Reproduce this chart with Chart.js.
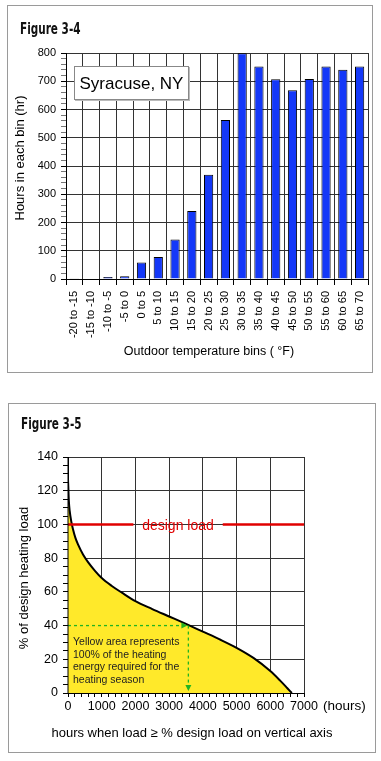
<!DOCTYPE html>
<html><head><meta charset="utf-8">
<script src="https://cdn.jsdelivr.net/npm/chart.js@4/dist/chart.umd.min.js"></script>
<style>
html,body{margin:0;padding:0;background:#fff;width:381px;height:761px;overflow:hidden;font-family:"Liberation Sans",Arial,sans-serif;color:#000;}
.panel{position:absolute;border:1.5px solid #9a9a9a;box-sizing:border-box;}
.abs{position:absolute;white-space:nowrap;line-height:1;}
.fig{font-family:"DejaVu Sans Condensed","Liberation Sans Narrow",sans-serif;font-weight:bold;font-size:12px;color:#111;transform:translate(0,-50%) scale(0.97,1.25);transform-origin:left center;}
.rot{transform:translate(-50%,-50%) rotate(-90deg);}
.ctr{transform:translate(-50%,-50%);}
.midy{transform:translate(0,-50%);}
canvas{position:absolute;left:0;}
</style></head><body>
<div class="panel" style="left:7px;top:5px;width:366px;height:368px"></div>
<div class="panel" style="left:8px;top:403px;width:368px;height:350px"></div>
<canvas id="c1" width="381" height="380" style="top:0;width:381px;height:380px"></canvas>
<canvas id="c2" width="381" height="366" style="top:395px;width:381px;height:366px"></canvas>

<div class="abs fig" style="left:20px;top:29px">Figure 3-4</div>
<div class="abs" style="left:74px;top:66px;width:115px;height:34px;box-sizing:border-box;border:1px solid #888;box-shadow:1px 1px 0 #bbb;background:#fff;font-size:17px;display:flex;align-items:center;justify-content:center;">Syracuse, NY</div>
<div class="abs rot" style="left:19px;top:158px;font-size:13px">Hours in each bin (hr)</div>
<div class="abs ctr" style="left:209px;top:351px;font-size:12.5px">Outdoor temperature bins ( °F)</div>

<div class="abs fig" style="left:21px;top:424px">Figure 3-5</div>
<div class="abs ctr" style="left:178px;top:525px;font-size:14px;color:#e00000">design load</div>
<div class="abs" style="left:73px;top:635px;font-size:10.5px;line-height:12.6px;color:#222">Yellow area represents<br>100% of the heating<br>energy required for the<br>heating season</div>
<div class="abs midy" style="left:323px;top:706px;font-size:13.5px">(hours)</div>
<div class="abs rot" style="left:23px;top:578px;font-size:13px">% of design heating load</div>
<div class="abs ctr" style="left:192px;top:732px;font-size:13px">hours when load ≥ % design load on vertical axis</div>

<script>
// ---- Figure 3-4 data ----
const binLabels = ['-20 to -15','-15 to -10','-10 to -5','-5 to 0','0 to 5','5 to 10','10 to 15','15 to 20','20 to 25','25 to 30','30 to 35','35 to 40','40 to 45','45 to 50','50 to 55','55 to 60','60 to 65','65 to 70'];
const binHours = [1, 2, 7, 10, 58, 78, 140, 241, 369, 563, 799, 752, 707, 668, 708, 752, 741, 752];
const hoursTicks = [0, 100, 200, 300, 400, 500, 600, 700, 800];

// ---- Figure 3-5 data ----
const loadHours   = [0, 25, 50, 100, 150, 220, 300, 450, 600, 800, 1000, 1300, 1600, 2000, 2500, 3000, 3500, 4000, 4500, 5000, 5500, 6000, 6300, 6500, 6640];
const loadPercent = [127, 114, 108, 101.5, 97, 92, 88, 82, 77.5, 72.5, 68.2, 63.5, 59.5, 54.5, 49.8, 45.4, 41, 36.4, 31.8, 26.8, 20.8, 13, 7.2, 3, 0];
const loadTicks = [0, 20, 40, 60, 80, 100, 120, 140];
const timeTicks = [0, 1000, 2000, 3000, 4000, 5000, 6000, 7000];
const designLoad = [100];
const designLineGap = [1940, 4590];
const guideHours = [3570];
const guidePercent = [40];

Chart.defaults.font.family = '"Liberation Sans", Arial, sans-serif';
Chart.defaults.color = '#000';
Chart.defaults.animation = false;

const GRID = '#333';

new Chart(document.getElementById('c1'), {
  type: 'bar',
  data: {
    labels: binLabels,
    datasets: [{
      data: binHours,
      backgroundColor: '#1438f8',
      borderColor: '#000',
      borderWidth: 1,
      barPercentage: 0.55,
      categoryPercentage: 1
    }]
  },
  options: {
    responsive: false,
    layout: { padding: { left: 0, top: 53, right: 13, bottom: 31 } },
    plugins: { legend: { display: false }, tooltip: { enabled: false } },
    scales: {
      x: {
        grid: { offset: true, color: GRID, tickColor: '#000', tickLength: 6 },
        border: { color: '#000', width: 1 },
        ticks: { autoSkip: false, minRotation: 90, maxRotation: 90, padding: 6, font: { size: 11 } },
        afterFit: s => { s.height = 70; }
      },
      y: {
        min: 0, max: 800,
        grid: {
          color: c => hoursTicks.includes(c.tick.value) ? GRID : 'rgba(0,0,0,0)',
          tickColor: c => hoursTicks.includes(c.tick.value) ? '#000' : '#777',
          tickLength: 5
        },
        border: { color: '#000', width: 1 },
        ticks: { stepSize: 20, autoSkip: false, padding: 5, font: { size: 11 },
                 callback: v => hoursTicks.includes(v) ? String(v) : '' },
        afterFit: s => { s.width = 66; }
      }
    }
  }
});

const overlay2 = {
  id: 'overlay2',
  afterDatasetsDraw(chart) {
    const {ctx, chartArea: a, scales: {x, y}} = chart;
    ctx.save();
    ctx.strokeStyle = '#000'; ctx.lineWidth = 1;
    ctx.beginPath();
    ctx.moveTo(a.left, a.top); ctx.lineTo(a.left, a.bottom + 0.5); ctx.lineTo(a.right, a.bottom + 0.5);
    ctx.stroke();
    const gx = x.getPixelForValue(guideHours[0]);
    const gy = y.getPixelForValue(guidePercent[0]);
    const y0 = y.getPixelForValue(0);
    ctx.fillStyle = '#22b422';
    ctx.beginPath();
    ctx.moveTo(gx - 1, gy); ctx.lineTo(gx - 7, gy - 3); ctx.lineTo(gx - 7, gy + 3); ctx.closePath(); ctx.fill();
    ctx.beginPath();
    ctx.moveTo(gx, y0 - 2); ctx.lineTo(gx - 3, y0 - 8); ctx.lineTo(gx + 3, y0 - 8); ctx.closePath(); ctx.fill();
    ctx.restore();
  }
};

const curvePts = loadHours.map((h, i) => ({ x: h, y: loadPercent[i] }));

new Chart(document.getElementById('c2'), {
  type: 'line',
  data: {
    datasets: [
      { data: [{x: 0, y: designLoad[0]}, {x: designLineGap[0], y: designLoad[0]}], borderColor: '#e00000', borderWidth: 2.5, pointRadius: 0, fill: false, order: 1 },
      { data: [{x: designLineGap[1], y: designLoad[0]}, {x: 7000, y: designLoad[0]}], borderColor: '#e00000', borderWidth: 2.5, pointRadius: 0, fill: false, order: 1 },
      { data: [{x: 0, y: guidePercent[0]}, {x: guideHours[0] - 150, y: guidePercent[0]}], borderColor: '#22b422', borderWidth: 1.3, borderDash: [3, 3], pointRadius: 0, fill: false, order: 2 },
      { data: [{x: guideHours[0], y: guidePercent[0]}, {x: guideHours[0], y: 2}], borderColor: '#22b422', borderWidth: 1.3, borderDash: [3, 3], pointRadius: 0, fill: false, order: 2 },
      { data: curvePts, borderColor: '#000', borderWidth: 2, backgroundColor: '#ffe92a', fill: 'origin', pointRadius: 0, cubicInterpolationMode: 'monotone', order: 5 }
    ]
  },
  options: {
    responsive: false,
    layout: { padding: { left: 0, top: 62, right: 77, bottom: 38 } },
    plugins: { legend: { display: false }, tooltip: { enabled: false } },
    scales: {
      x: {
        type: 'linear', min: 0, max: 7000,
        grid: {
          color: c => timeTicks.includes(c.tick.value) ? GRID : 'rgba(0,0,0,0)',
          tickColor: '#000', tickLength: 4
        },
        border: { color: '#000', width: 1 },
        ticks: { stepSize: 200, autoSkip: false, maxRotation: 0, padding: 2, font: { size: 12.5 },
                 callback: v => timeTicks.includes(v) ? String(v) : '' },
        afterFit: s => { s.height = 30; }
      },
      y: {
        min: 0, max: 140,
        grid: {
          color: c => loadTicks.includes(c.tick.value) ? GRID : 'rgba(0,0,0,0)',
          tickColor: '#000', tickLength: 5
        },
        border: { color: '#000', width: 1 },
        ticks: { stepSize: 5, autoSkip: false, padding: 5, font: { size: 12.5 },
                 callback: v => loadTicks.includes(v) ? String(v) : '' },
        afterFit: s => { s.width = 68; }
      }
    }
  },
  plugins: [overlay2]
});
</script>
</body></html>
